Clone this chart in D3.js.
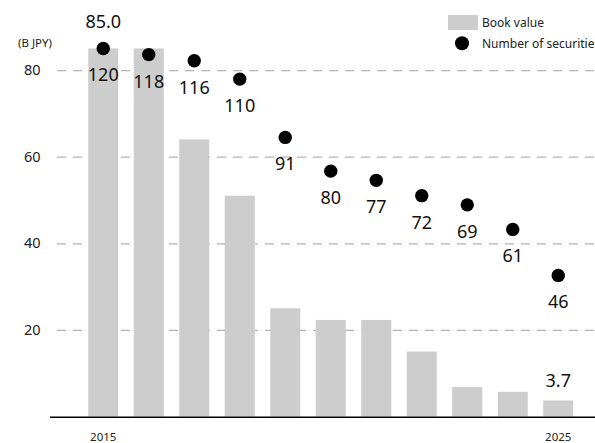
<!DOCTYPE html>
<html><head><meta charset="utf-8">
<script src="https://cdn.jsdelivr.net/npm/d3@7"></script>
<style>
html,body{margin:0;padding:0;background:#fff;}
svg{display:block;font-family:"Noto Sans","Open Sans",sans-serif;}
</style></head>
<body><svg id="c" width="595" height="443"></svg>
<script>
const years = [2015,2016,2017,2018,2019,2020,2021,2022,2023,2024,2025];
const bookValue = [85.0,85.0,64,51,25,22.3,22.3,15,6.8,5.7,3.7];
const securities = [120,118,116,110,91,80,77,72,69,61,46];
const yTicks = [20,40,60,80];
const xTickYears = [2015,2025];
const bookLabels = [{i:0,text:"85.0"},{i:10,text:"3.7"}];
const legendItems = ["Book value","Number of securities"];

const svg = d3.select("#c");
const baseY = 416.5, topY = 26.8;
const x = d3.scaleBand().domain(years).range([80.5, 581]).paddingInner(0.34).paddingOuter(0.17);
const y = d3.scaleLinear().domain([0,90]).range([baseY, topY]);
const y2 = d3.scaleLinear().domain([0,90*120/85]).range([baseY, topY]);

// gridlines
const grid = d3.axisLeft(y).tickValues(yTicks).tickSize(-(595-57)).tickFormat("");
const gg = svg.append("g").attr("transform","translate(57,0)").call(grid);
gg.select(".domain").remove();
gg.selectAll("line").attr("stroke","#b3b3b3").attr("stroke-width",1.2).attr("stroke-dasharray","9,7");

// y tick labels
svg.append("g").selectAll("text").data(yTicks).join("text")
  .attr("x",40.5).attr("y",d=>y(d)).attr("dy","0.35em").attr("text-anchor","end")
  .attr("font-size",14.5).attr("fill","#222").text(d=>d);

svg.append("text").attr("x",18).attr("y",47).attr("font-size",11.5).attr("fill","#222").text("(B JPY)");

// bars
svg.append("g").selectAll("rect").data(years).join("rect")
  .attr("x",d=>x(d)).attr("width",x.bandwidth())
  .attr("y",(d,i)=>y(bookValue[i])).attr("height",(d,i)=>baseY-y(bookValue[i]))
  .attr("fill","#cdcdcd");

// baseline axis
const xa = d3.axisBottom(x).tickValues(xTickYears).tickSize(0).tickPadding(12);
const xg = svg.append("g").attr("transform",`translate(0,${baseY+0.8})`).call(xa);
xg.select(".domain").attr("d",`M50,0H595`).attr("stroke","#000").attr("stroke-width",1.6);
xg.selectAll("text").attr("font-size",11.5).attr("fill","#222").attr("font-family","Noto Sans").attr("dy","1em");

// dots
const cx = d=>x(d)+x.bandwidth()/2;
svg.append("g").selectAll("circle").data(years).join("circle")
  .attr("cx",cx).attr("cy",(d,i)=>y2(securities[i])).attr("r",6.7).attr("fill","#000");
svg.append("g").selectAll("text").data(years).join("text")
  .attr("x",cx).attr("y",(d,i)=>y2(securities[i])+33)
  .attr("text-anchor","middle").attr("font-size",18).attr("fill","#111")
  .text((d,i)=>securities[i]);

// book value labels
svg.append("g").selectAll("text").data(bookLabels).join("text")
  .attr("x",d=>cx(years[d.i])).attr("y",d=>y(bookValue[d.i])-(d.i===0?20:13))
  .attr("text-anchor","middle").attr("font-size",18).attr("fill","#111").text(d=>d.text);

// legend
const lg = svg.append("g");
lg.append("rect").attr("x",448).attr("y",15).attr("width",30).attr("height",15).attr("fill","#cdcdcd");
lg.append("circle").attr("cx",462).attr("cy",43.3).attr("r",7).attr("fill","#000");
lg.selectAll("text").data(legendItems).join("text")
  .attr("x",482).attr("y",(d,i)=>22.5+i*21).attr("dy","0.35em")
  .attr("font-size",12).attr("fill","#222").text(d=>d);
</script></body></html>
